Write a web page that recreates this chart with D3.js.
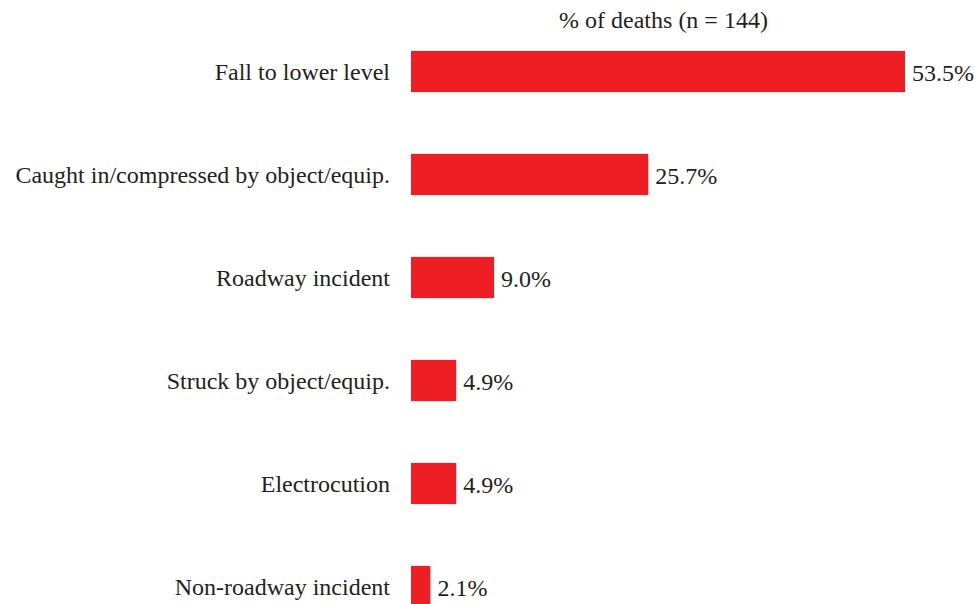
<!DOCTYPE html>
<html><head><meta charset="utf-8">
<script src="https://cdn.jsdelivr.net/npm/d3@7"></script>
<style>body{margin:0;background:#fff}svg{display:block}</style>
</head><body><svg id="c" width="980" height="604"></svg>
<script>
const categories = ["Fall to lower level","Caught in/compressed by object/equip.","Roadway incident","Struck by object/equip.","Electrocution","Non-roadway incident"];
const values = [53.5, 25.7, 9.0, 4.9, 4.9, 2.1];
const valueLabels = ["53.5%","25.7%","9.0%","4.9%","4.9%","2.1%"];
const title = "% of deaths (n = 144)";

const FONT = "'Liberation Serif', Tinos, 'Times New Roman', Times, 'DejaVu Serif', serif";
const FS = 24;
const svg = d3.select("#c");
const x = d3.scaleLinear().domain([0, 53.5]).range([411, 905]);
const y = d3.scaleBand().domain(categories).range([20, 638]).paddingInner(0.6).paddingOuter(0.3);

svg.append("text").attr("x", 663.5).attr("y", 28).attr("text-anchor","middle").attr("font-family", FONT).attr("font-size", FS).attr("fill","#231f20").text(title);

const g = svg.selectAll("g.row").data(categories).enter().append("g");
g.append("rect").attr("x", x(0)).attr("y", d => y(d)).attr("width", (d,i) => x(values[i]) - x(0)).attr("height", y.bandwidth()).attr("fill", "#ed1f24");
g.append("text").attr("x", 390).attr("y", d => y(d) + y.bandwidth()/2).attr("dy","0.35em").attr("text-anchor","end").attr("font-family", FONT).attr("font-size", FS).attr("fill","#231f20").text(d => d);
g.append("text").attr("x", (d,i) => x(values[i]) + 7).attr("y", d => y(d) + y.bandwidth()/2 + 1).attr("dy","0.35em").attr("font-family", FONT).attr("font-size", FS).attr("fill","#231f20").text((d,i) => valueLabels[i]);
</script></body></html>
